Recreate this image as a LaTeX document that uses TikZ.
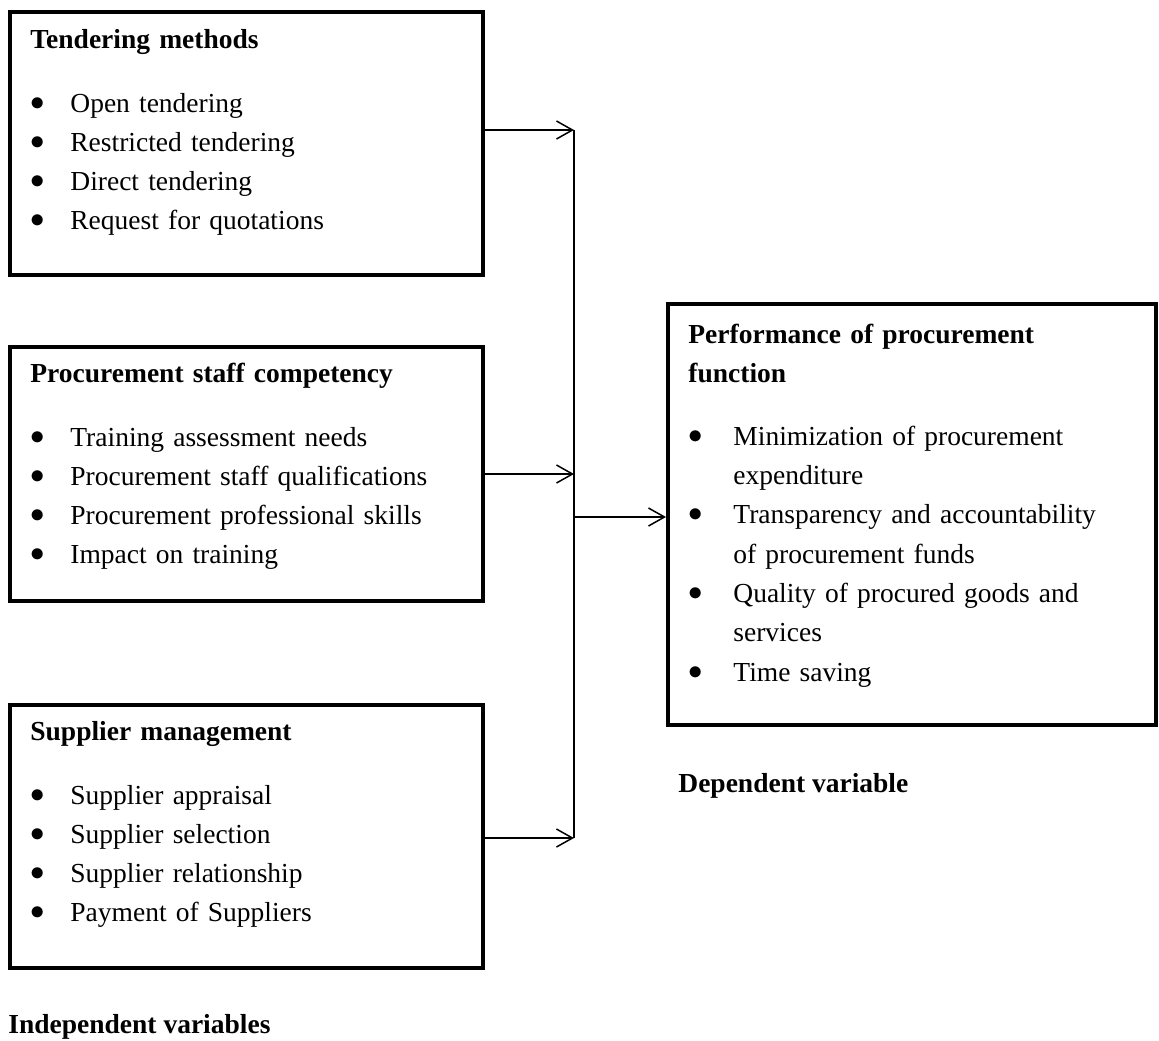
\documentclass[tikz,border=0pt]{standalone}
\usepackage{fontspec}
\setmainfont{Liberation Serif}
\usetikzlibrary{arrows.meta,positioning}
\newcommand{\itm}[2][20pt]{\par\noindent\hangindent=#1\relax\hangafter=1\relax
  \makebox[#1][l]{\raisebox{1pt}{$\bullet$}}#2}

\begin{document}
\begin{tikzpicture}[x=0.5pt,y=-0.5pt,
      box/.style={draw, line width=2pt, minimum width=236.5pt, inner sep=0pt},
      txt/.style={anchor=base west, inner sep=0pt, align=left, text width=250pt,
      font=\fontsize{13.75}{19.65}\selectfont},
      lbl/.style={anchor=base west, inner sep=0pt, font=\fontsize{13.75}{19.65}\selectfont\bfseries},
      link/.style={line width=0.75pt},
      >={Straight Barb[length=8pt,width=9pt]}]
    \useasboundingbox (0,0) rectangle (1159,1040);
    \node[box, minimum height=131.5pt] (tend) at (246.5,143.5) {};
    \node[box, minimum height=127pt] (staff) at (246.5,474) {};
    \node[box, minimum height=131.5pt] (supp) at (246.5,836.5) {};
    \node[box, minimum width=244pt, minimum height=210.5pt] (perf) at (912,514.5) {};
    \node[txt] (tend text) at (30,48) {\noindent\textbf{Tendering methods}\par\vspace{12.35pt}
      \itm{Open tendering}\itm{Restricted tendering}\itm{Direct tendering}\itm{Request for quotations}};
    \node[txt] (staff text) at (30,382) {\noindent\textbf{Procurement staff competency}\par\vspace{12.35pt}
      \itm{Training assessment needs}\itm{Procurement staff qualifications}
      \itm{Procurement professional skills}\itm{Impact on training}};
    \node[txt] (supp text) at (30,740) {\noindent\textbf{Supplier management}\par\vspace{12.35pt}
      \itm{Supplier appraisal}\itm{Supplier selection}\itm{Supplier relationship}\itm{Payment of Suppliers}};
    \node[txt] (perf text) at (688,343) {\noindent\textbf{Performance of procurement\newline function}\par\vspace{11.85pt}
      \itm[22.5pt]{Minimization of procurement\newline expenditure}
      \itm[22.5pt]{Transparency and accountability\newline of procurement funds}
      \itm[22.5pt]{Quality of procured goods and\newline services}
      \itm[22.5pt]{Time saving}};
    \node[lbl] (dep) at (678,792) {Dependent variable};
    \node[lbl] (indep) at (8,1033) {Independent variables};
    \coordinate (bus top) at (574,130);
    \coordinate (bus mid) at (574,517);
    \coordinate (bus bot) at (574,838);
    \draw[link] (bus top) -- (bus bot);
    \draw[->,link] (tend.east |- bus top) -- (bus top);
    \draw[->,link] (staff.east) -- (staff.east -| bus top);
    \draw[->,link] (supp.east |- bus bot) -- (bus bot);
    \draw[->,link] (bus mid) -- (perf.west |- bus mid);
  \end{tikzpicture}
\end{document}
